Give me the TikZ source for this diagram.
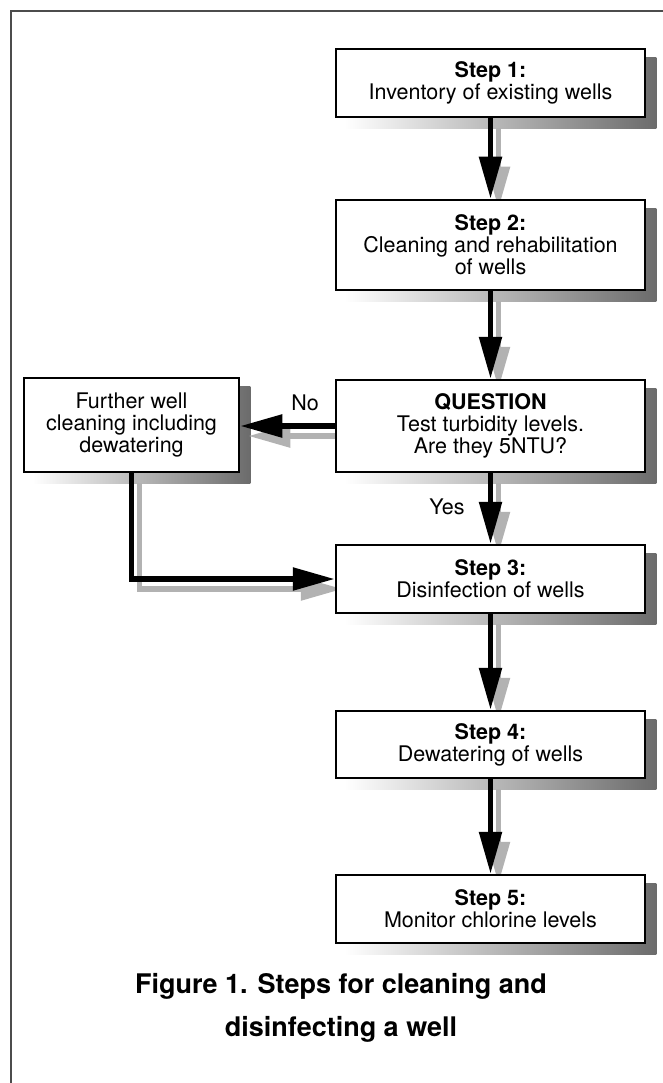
\documentclass[tikz,border=0pt]{standalone}
\usepackage{fontspec}
\setmainfont{TeX Gyre Heros}
\usetikzlibrary{arrows.meta}
\pgfdeclarelayer{shadowlayer}
\pgfdeclarelayer{grayarrows}
\pgfsetlayers{shadowlayer,grayarrows,main}
\begin{document}
\begin{tikzpicture}[x=1pt,y=-1pt,
  box/.style={draw=black, line width=2.5pt, fill=white, align=center,
    font=\fontsize{21.5}{22}\selectfont, inner sep=0pt, minimum width=309pt},
  lbl/.style={font=\fontsize{21.5}{22}\selectfont, inner sep=0pt},
  arr/.style={line width=5.5pt, draw=black, -{Triangle[length=42pt,width=22pt]}},
  garr/.style={line width=5.5pt, draw=black!30, -{Triangle[length=42pt,width=22pt]}},
  shadowfill/.style={left color=white, right color=black!58, draw=none}]
\useasboundingbox (0,0) rectangle (663,1083);
\draw[line width=1.5pt, black!70] (11,1083) -- (11,11) -- (663,11);

\node[box, minimum height=68pt] (s1) at (490.5,83) {\textbf{Step 1:}\\Inventory of existing wells};
\node[box, minimum height=90pt] (s2) at (490.5,245) {\textbf{Step 2:}\\Cleaning and rehabilitation\\of wells};
\node[box, minimum height=92pt] (q) at (490.5,426) {\textbf{QUESTION}\\Test turbidity levels.\\Are they 5NTU?};
\node[box, minimum width=215pt, minimum height=94pt] (f) at (131.5,425) {Further well\\cleaning including\\dewatering};
\node[box, minimum height=68pt] (s3) at (490.5,579) {\textbf{Step 3:}\\Disinfection of wells};
\node[box, minimum height=67pt] (s4) at (490.5,744.5) {\textbf{Step 4:}\\Dewatering of wells};
\node[box, minimum height=68pt] (s5) at (490.5,909) {\textbf{Step 5:}\\Monitor chlorine levels};

\begin{pgfonlayer}{shadowlayer}
  \foreach \n in {s1,s2,q,f,s3,s4,s5}{
    \fill[shadowfill] ([shift={(10,10)}]\n.north west) rectangle ([shift={(10,10)}]\n.south east);
  }
\end{pgfonlayer}

\begin{pgfonlayer}{grayarrows}
  \begin{scope}[transform canvas={shift={(8,10)}}]
    \draw[garr] (s1.south) -- (s2.north);
    \draw[garr] (s2.south) -- (q.north);
    \draw[garr] (q.west) -- (f.east |- q.west);
    \draw[garr] (q.south) -- (s3.north);
    \draw[garr] (f.south) |- (s3.west);
    \draw[garr] (s3.south) -- (s4.north);
    \draw[garr] (s4.south) -- (s5.north);
  \end{scope}
\end{pgfonlayer}

\draw[arr] (s1.south) -- (s2.north);
\draw[arr] (s2.south) -- (q.north);
\draw[arr] (q.west) -- (f.east |- q.west);
\draw[arr] (q.south) -- (s3.north);
\draw[arr] (f.south) |- (s3.west);
\draw[arr] (s3.south) -- (s4.north);
\draw[arr] (s4.south) -- (s5.north);

\node[lbl] (no) at (305,403) {No};
\node[lbl] (yes) at (447,507) {Yes};

\node[align=center, font=\fontsize{27}{43}\selectfont\bfseries, inner sep=0pt] (cap) at (341,1008)
  {Figure 1. Steps for cleaning and\\disinfecting a well};
\end{tikzpicture}
\end{document}
